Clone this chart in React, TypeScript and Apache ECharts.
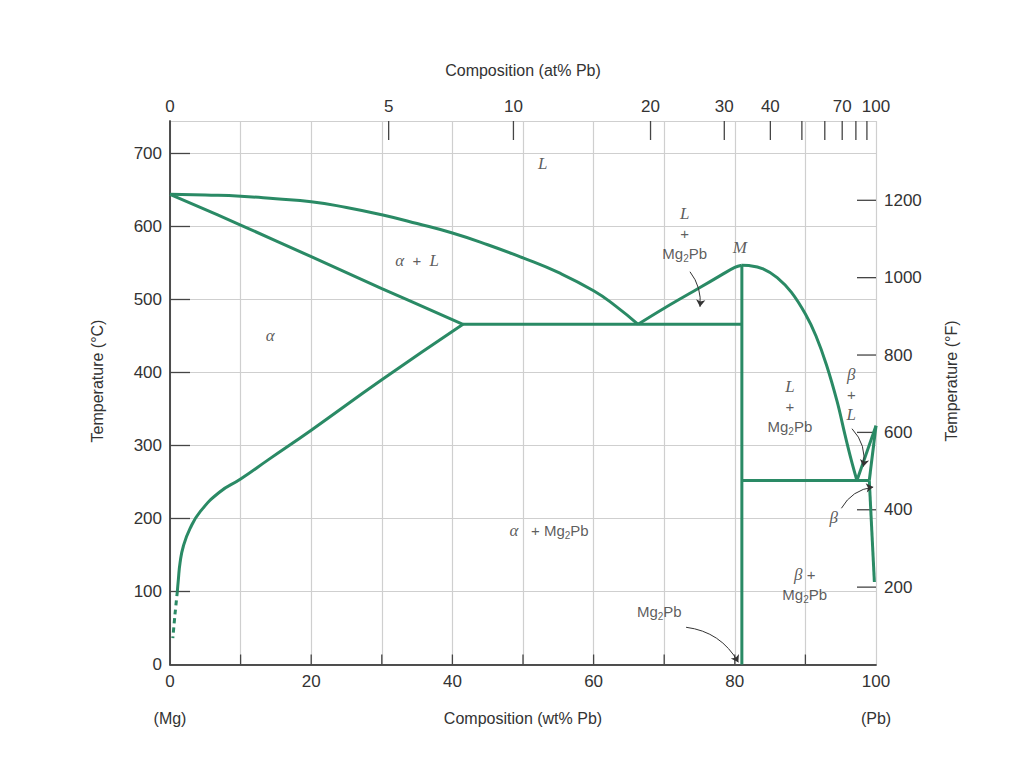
import React, { useEffect, useRef } from "react";
import * as echarts from "echarts";

// ---- axis definitions ----
const wtLabelValues = [0, 20, 40, 60, 80, 100];
const tempCMax = 744.5;
const tempFMax = 1405;
const fahrenheitTicks = [200, 400, 600, 800, 1000, 1200];
const atLabelValues = [0, 5, 10, 20, 30, 40, 70, 100];
const atTickValues = [5, 10, 20, 30, 40, 50, 60, 70, 80, 90];

// ---- phase boundaries (wt% Pb, °C) ----
const liquidusAlpha: number[][] = [
  [0, 644], [5, 643], [10, 641.5], [15, 638], [20, 634], [25, 626], [30, 616],
  [35, 604], [40, 591], [45, 575], [50, 557], [55, 537], [60, 512], [63, 492], [66.3, 466],
];
const solidusAlpha: number[][] = [[0, 644], [10, 602], [20, 558.6], [30, 515], [41.5, 466]];
const solvusAlpha: number[][] = [
  [41.5, 466], [30, 390], [20, 321], [14, 281], [10, 254], [7, 236], [4.25, 209],
  [2.83, 186], [1.89, 162], [1.42, 139], [1.18, 116], [1.04, 100],
];
const solvusAlphaDashed: number[][] = [[1.04, 100], [0.7, 68], [0.4, 36]];
const liquidusMid: number[][] = [[66.3, 466], [70, 488], [75, 516], [78, 533], [80, 544], [81, 547]];
const liquidusRight: number[][] = [
  [81, 547], [82, 546.5], [84, 542], [86, 530], [88, 510], [90, 480], [91.5, 450],
  [93, 410], [94.5, 360], [95.6, 315], [96.5, 280], [97.3, 252],
];
const mg2pbLine: number[][] = [[81, 0], [81, 547]];
const eutecticLeft: number[][] = [[41.5, 466], [81, 466]];
const eutecticRight: number[][] = [[81, 252], [99.05, 252]];
const betaLiquidus: number[][] = [[97.3, 252], [100, 327]];
const betaSolidus: number[][] = [[99.05, 252], [100, 327]];
const betaSolvus: number[][] = [[99.05, 252], [99.77, 113]];

// ---- annotations ----
const MG2PB = "{m|Mg}{s|2}{m|Pb}";
const phaseLabels = [
  { pos: [52.8, 686], text: "{i|L}" },
  { pos: [35.0, 554], text: "{i|α}{r|  +  }{i|L}" },
  { pos: [14.2, 451], text: "{i|α}" },
  { pos: [72.9, 590], text: "{i|L}\n{r|+}\n" + MG2PB },
  { pos: [80.7, 571], text: "{i|M}" },
  { pos: [87.8, 353], text: "{i|L}\n{r|+}\n" + MG2PB },
  { pos: [96.5, 370], text: "{i|β}\n{r|+}\n{i|L}" },
  { pos: [94.0, 202], text: "{i|β}" },
  { pos: [53.7, 184], text: "{i|α}{r|   + }" + MG2PB },
  { pos: [89.9, 110], text: "{i|β}{r| +}\n" + MG2PB },
  { pos: [69.3, 72], text: MG2PB },
];
const arrows = [
  { from: [73.65, 538], to: [75.07, 490], c: 0.2 },
  { from: [96.6, 323], to: [98.2, 271], c: 0.25 },
  { from: [95.1, 214], to: [99.6, 243], c: 0.25 },
  { from: [73.1, 51], to: [80.5, 3], c: 0.25 },
];

const atToWt = (a: number) => (100 * a * 207.2) / (a * 207.2 + (100 - a) * 24.305);

const GREEN = "#2a8a65";
const AXIS = "#454545";
const GRID = "#cfcfcf";
const TEXT = "#333";
const SANS = "'Liberation Sans', Arial, sans-serif";
const SERIF = "'Liberation Serif', 'DejaVu Serif', serif";

export default function App() {
  const ref = useRef<HTMLDivElement>(null);
  useEffect(() => {
    if (!ref.current) return;
    const chart = echarts.init(ref.current, undefined, { renderer: "svg" });
    const topLabelWt = atLabelValues.map(atToWt);

    const boundary = (data: number[][], smooth: number | boolean, dashed = false) => ({
      type: "line",
      data,
      xAxisIndex: 0,
      yAxisIndex: 0,
      showSymbol: false,
      symbol: "none",
      smooth,
      clip: false,
      silent: true,
      lineStyle: { color: GREEN, width: 3, type: dashed ? [5, 4] : "solid" },
      z: 3,
    });

    const rich = {
      i: { fontFamily: SERIF, fontStyle: "italic", fontSize: 17, color: TEXT, lineHeight: 20 },
      r: { fontFamily: SANS, fontSize: 15, color: TEXT, lineHeight: 20 },
      m: { fontFamily: SANS, fontSize: 15, color: TEXT, lineHeight: 20 },
      s: { fontFamily: SANS, fontSize: 10, color: TEXT, lineHeight: 9, verticalAlign: "bottom" },
    };
    const labelFont = { fontFamily: SANS, fontSize: 17, color: TEXT };
    const nameFont = { fontFamily: SANS, fontSize: 16, color: TEXT };

    chart.setOption({
      animation: false,
      backgroundColor: "#fff",
      grid: { left: 170, right: 148, top: 121, bottom: 99.5, containLabel: false },
      xAxis: [
        {
          type: "value",
          position: "bottom",
          min: 0,
          max: 100,
          interval: 10,
          name: "Composition (wt% Pb)",
          nameLocation: "middle",
          nameGap: 46,
          nameTextStyle: nameFont,
          axisLine: { show: true, lineStyle: { color: AXIS, width: 1.5 } },
          axisTick: { show: false },
          axisLabel: {
            margin: 8,
            ...labelFont,
            formatter: (v: number) => (wtLabelValues.includes(v) ? String(v) : ""),
          },
          splitLine: { show: true, lineStyle: { color: GRID, width: 1.2 } },
        },
        {
          type: "value",
          position: "top",
          min: 0,
          max: 100,
          name: "Composition (at% Pb)",
          nameLocation: "middle",
          nameGap: 43,
          nameTextStyle: nameFont,
          axisLine: { show: true, lineStyle: { color: AXIS, width: 1.5 } },
          axisTick: { show: false },
          axisLabel: {
            margin: 6,
            ...labelFont,
            customValues: topLabelWt,
            formatter: (v: number) => {
              const i = topLabelWt.findIndex((w) => Math.abs(w - v) < 1e-6);
              return i >= 0 ? String(atLabelValues[i]) : "";
            },
          },
          splitLine: { show: false },
        },
      ],
      yAxis: [
        {
          type: "value",
          position: "left",
          min: 0,
          max: tempCMax,
          interval: 100,
          axisLine: { show: true, lineStyle: { color: AXIS, width: 1.5 } },
          axisTick: { show: false },
          axisLabel: { margin: 8, ...labelFont, showMaxLabel: false },
          splitLine: { show: true, lineStyle: { color: GRID, width: 1.2 } },
        },
        {
          type: "value",
          position: "right",
          min: 0,
          max: tempFMax,
          axisLine: { show: true, lineStyle: { color: AXIS, width: 1.5 } },
          axisTick: { show: false },
          axisLabel: {
            margin: 8,
            ...labelFont,
            customValues: fahrenheitTicks,
            formatter: (v: number) => String(v),
          },
          splitLine: { show: false },
        },
      ],
      series: [
        boundary(liquidusAlpha, 0.5),
        boundary(solidusAlpha, 0.4),
        boundary(solvusAlpha, 0.5),
        boundary(solvusAlphaDashed, 0.3, true),
        boundary(liquidusMid, 0.4),
        boundary(liquidusRight, 0.4),
        boundary(mg2pbLine, false),
        boundary(eutecticLeft, false),
        boundary(eutecticRight, false),
        boundary(betaLiquidus, false),
        boundary(betaSolidus, false),
        boundary(betaSolvus, false),
        {
          type: "lines",
          coordinateSystem: "cartesian2d",
          xAxisIndex: 0,
          yAxisIndex: 0,
          silent: true,
          symbol: ["none", "arrow"],
          symbolSize: 7,
          lineStyle: { color: "#333", width: 1, opacity: 1 },
          data: arrows.map((a) => ({ coords: [a.from, a.to], lineStyle: { curveness: a.c } })),
          z: 4,
        },
        {
          type: "scatter",
          xAxisIndex: 0,
          yAxisIndex: 0,
          silent: true,
          symbolSize: 1,
          itemStyle: { color: "rgba(0,0,0,0)" },
          data: phaseLabels.map((p) => ({
            value: p.pos,
            label: {
              show: true,
              position: "inside",
              formatter: p.text,
              rich,
              align: "center",
              verticalAlign: "middle",
            },
          })),
          z: 5,
        },
      ],
    });

    // ticks drawn from the axes' own scales
    const toPx = (x: number, y: number) =>
      chart.convertToPixel({ xAxisIndex: 0, yAxisIndex: 0 }, [x, y]) as number[];
    const [xl, yb] = toPx(0, 0);
    const [xr, yt] = toPx(100, tempCMax);
    const tickStyle = { stroke: AXIS, lineWidth: 1.3 };
    const ticks: any[] = [];
    for (let w = 10; w < 100; w += 10) {
      const x = toPx(w, 0)[0];
      ticks.push({ type: "line", shape: { x1: x, y1: yb, x2: x, y2: yb - 10 }, style: tickStyle, silent: true });
    }
    for (let t = 100; t <= 700; t += 100) {
      const y = toPx(0, t)[1];
      ticks.push({ type: "line", shape: { x1: xl, y1: y, x2: xl + 20, y2: y }, style: tickStyle, silent: true });
    }
    atTickValues.forEach((a) => {
      const x = toPx(atToWt(a), 0)[0];
      ticks.push({ type: "line", shape: { x1: x, y1: yt, x2: x, y2: yt + 19 }, style: tickStyle, silent: true });
    });
    fahrenheitTicks.forEach((f) => {
      const y = chart.convertToPixel({ yAxisIndex: 1 }, f) as number;
      ticks.push({ type: "line", shape: { x1: xr - 19, y1: y, x2: xr, y2: y }, style: tickStyle, silent: true });
    });
    const nameStyle = { fontFamily: SANS, fontSize: 16, fill: TEXT, align: "center", verticalAlign: "middle" };

    chart.setOption({
      graphic: [
        ...ticks,
        { type: "text", x: xl, y: 718, style: { text: "(Mg)", ...nameStyle } },
        { type: "text", x: xr, y: 718, style: { text: "(Pb)", ...nameStyle } },
        { type: "text", x: 97, y: 381, rotation: Math.PI / 2, style: { text: "Temperature (°C)", ...nameStyle } },
        { type: "text", x: 951, y: 381, rotation: Math.PI / 2, style: { text: "Temperature (°F)", ...nameStyle } },
      ],
    });
    return () => chart.dispose();
  }, []);
  return (
    <div
      ref={ref}
      style={{ position: "fixed", left: 0, top: 0, width: 1024, height: 764, background: "#fff" }}
    />
  );
}
